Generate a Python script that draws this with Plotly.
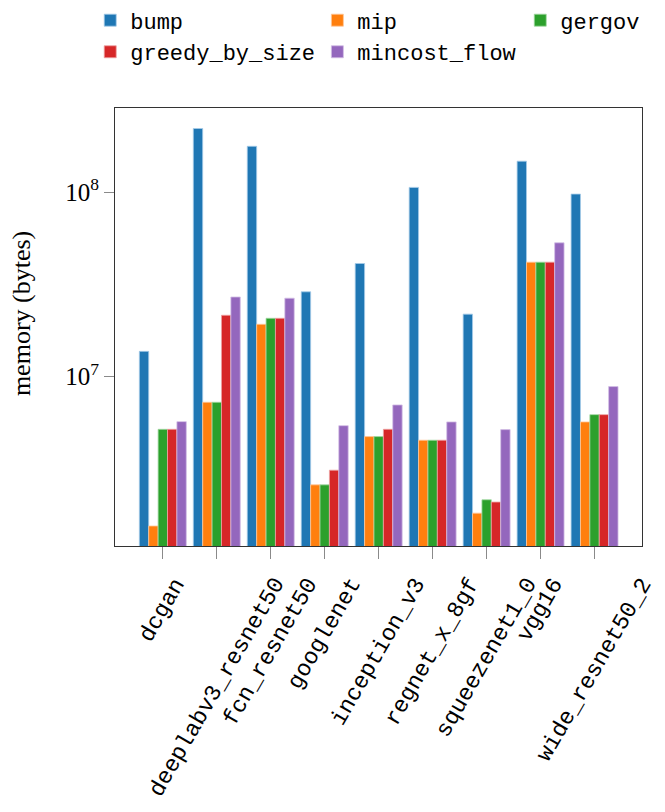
import plotly.graph_objects as go

MODELS = ["dcgan", "deeplabv3_resnet50", "fcn_resnet50", "googlenet", "inception_v3",
          "regnet_x_8gf", "squeezenet1_0", "vgg16", "wide_resnet50_2"]

BUMP = [1.37e7, 2.21e8, 1.77e8, 2.88e7, 4.10e7, 1.06e8, 2.18e7, 1.47e8, 9.75e7]
MIP = [1.55e6, 7.26e6, 1.92e7, 2.59e6, 4.73e6, 4.52e6, 1.82e6, 4.17e7, 5.68e6]
GERGOV = [5.18e6, 7.26e6, 2.07e7, 2.59e6, 4.73e6, 4.52e6, 2.15e6, 4.17e7, 6.22e6]
GREEDY = [5.18e6, 2.15e7, 2.07e7, 3.11e6, 5.18e6, 4.52e6, 2.09e6, 4.17e7, 6.22e6]
MINCOST = [5.70e6, 2.70e7, 2.66e7, 5.42e6, 7.02e6, 5.68e6, 5.16e6, 5.31e7, 8.83e6]

# name, values, fill, edge, legend column
SERIES = [
    ("bump", BUMP, "#1f77b4", "#a6cbe8", "legend"),
    ("mip", MIP, "#ff7f0e", "#ffc89a", "legend2"),
    ("gergov", GERGOV, "#2ca02c", "#a3d9a3", "legend3"),
    ("greedy_by_size", GREEDY, "#d62728", "#eea3a3", "legend"),
    ("mincost_flow", MINCOST, "#9467bd", "#d3bfe6", "legend2"),
]

MONO = "Liberation Mono"
SERIF = "Liberation Serif"

fig = go.Figure()
for name, vals, color, edge, leg in SERIES:
    fig.add_trace(go.Bar(
        name=name, x=list(range(len(MODELS))), y=vals, legend=leg,
        marker=dict(color=color, line=dict(color=edge, width=0.8)),
    ))


def _legend(x):
    return dict(
        x=x, xanchor="left", y=1.248, yanchor="top",
        bgcolor="rgba(0,0,0,0)",
        font=dict(family=MONO, size=22, color="black"),
        traceorder="normal", tracegroupgap=0,
    )


# rotated category labels, centred under each tick (pgfplots style)
tick_labels = [
    dict(text=m, textangle=-60, xref="x", yref="paper", x=i, y=0,
         xanchor="center", yanchor="top", yshift=-25, showarrow=False,
         font=dict(family=MONO, size=23, color="black"))
    for i, m in enumerate(MODELS)
]

fig.update_layout(
    width=665, height=812,
    barmode="group", bargap=0.13, bargroupgap=0,
    paper_bgcolor="white", plot_bgcolor="white",
    margin=dict(l=115, r=23, t=108, b=266, autoexpand=False),
    legend=_legend(-0.047),
    legend2=_legend(0.384),
    legend3=_legend(0.769),
    showlegend=True,
    annotations=tick_labels + [dict(
        text="memory (bytes)", textangle=-90,
        xref="paper", yref="paper", x=-0.176, y=0.53,
        xanchor="center", yanchor="middle", showarrow=False,
        font=dict(family=SERIF, size=26, color="black"),
    )],
)

fig.update_xaxes(
    range=[-0.886, 8.879],
    tickmode="array", tickvals=list(range(len(MODELS))), showticklabels=False,
    ticks="outside", ticklen=12, tickcolor="#8a8a8a", tickwidth=1,
    showline=True, linecolor="#333333", linewidth=1.2, mirror=True,
    showgrid=False, zeroline=False,
)
fig.update_yaxes(
    type="log", range=[6.082, 8.4555],
    tickmode="array", tickvals=[1e7, 1e8], ticktext=["10<sup>7</sup>", "10<sup>8</sup>"],
    tickfont=dict(family=SERIF, size=25, color="black"),
    ticks="outside", ticklen=10, tickcolor="#8a8a8a", tickwidth=1,
    showline=True, linecolor="#333333", linewidth=1.2, mirror=True,
    showgrid=False, zeroline=False,
)

fig.write_html("out.html", config={"displayModeBar": False},
               post_script="document.body.style.margin='0';")
